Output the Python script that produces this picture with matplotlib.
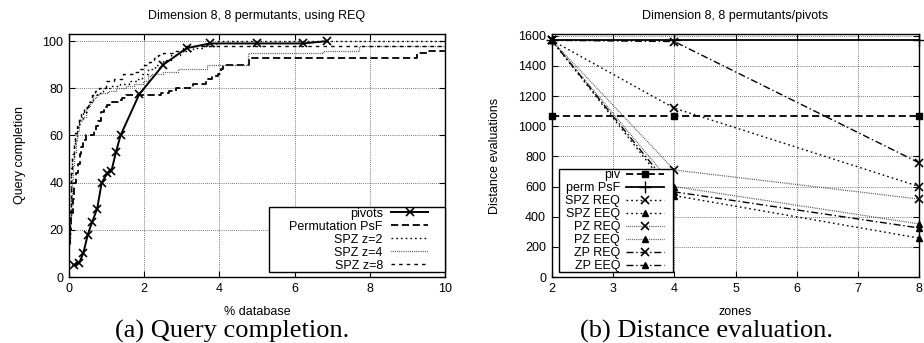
import numpy as np
import matplotlib
matplotlib.use("Agg")
import matplotlib.pyplot as plt
from matplotlib.patches import Rectangle

plt.rcParams['font.family'] = ['Liberation Sans', 'DejaVu Sans']

# --- (a) query completion vs % database ---
pivots_x = [0.12, 0.27, 0.38, 0.50, 0.62, 0.75, 0.87, 1.02, 1.13, 1.25, 1.37,
            1.87, 2.51, 3.13, 3.75, 4.99, 6.23, 6.87]
pivots_y = [5, 6, 10, 18, 23.5, 29, 40, 44, 45, 53, 60, 77.5, 90, 97, 99, 99, 99, 100]

perm_x = [0.0, 0.03, 0.06, 0.10, 0.14, 0.18, 0.23, 0.28, 0.33, 0.38,
          0.45, 0.67, 0.72, 0.78, 0.85, 0.92, 1.00, 1.15, 1.29, 1.40,
          1.52, 2.45, 2.65, 2.85, 3.30, 3.65, 3.80, 3.95, 4.05, 4.10,
          4.78, 9.25, 9.55, 10.0]
perm_y = [14, 20, 27, 33, 40, 44, 48, 52, 55, 58,
          60, 62, 64, 66, 70, 72, 73, 74, 75, 76,
          77, 78, 79, 80, 82, 84, 85, 86, 88, 90,
          93, 95, 96, 96]

z2_x = [0.0, 0.02, 0.04, 0.06, 0.09, 0.12, 0.16, 0.2, 0.25, 0.3,
        0.38, 0.47, 0.55, 0.65, 0.75, 0.9, 1.1, 1.35, 1.6, 1.8,
        1.95, 2.1, 2.3, 2.5, 2.7, 2.95, 3.3, 3.6, 3.9, 10]
z2_y = [15, 26, 36, 44, 50, 55, 59, 62, 65, 67,
        70, 73, 75, 77, 78, 80, 81, 82, 83, 84,
        86, 88, 90, 92, 94, 96, 97, 98, 100, 100]

z4_x = [0.0, 0.02, 0.04, 0.07, 0.1, 0.14, 0.18, 0.22, 0.27, 0.35,
        0.45, 0.55, 0.63, 0.72, 0.8, 1.03, 1.25, 1.52, 1.73, 1.96,
        2.1, 2.18, 2.49, 2.9, 3.66, 4.76, 6.75, 7.7, 10]
z4_y = [16, 25, 33, 41, 47, 53, 58, 62, 66, 68,
        72, 74, 76, 77, 78, 79, 80, 81, 82, 83,
        85, 86, 87, 88, 90, 95, 96, 98, 98]

z8_x = [0.0, 0.02, 0.04, 0.06, 0.09, 0.12, 0.16, 0.2, 0.26, 0.32,
        0.4, 0.5, 0.6, 0.7, 0.8, 0.98, 1.2, 1.43, 1.73, 1.86,
        2.0, 2.13, 2.25, 2.36, 2.5, 2.76, 3.02, 3.1, 10]
z8_y = [18, 28, 38, 46, 52, 57, 61, 64, 67, 69,
        72, 74, 77, 79, 80, 83, 84, 86, 87, 88,
        90, 91, 93, 94, 95, 96, 97, 98, 98]

# --- (b) distance evaluations vs zones ---
zones = [2, 4, 8]
piv = [1065, 1065, 1065]
perm_psf = [1570, 1570, 1570]
spz_req = [1570, 1120, 600]
spz_eeq = [1570, 540, 258]
pz_req = [1570, 710, 517]
pz_eeq = [1570, 600, 352]
zp_req = [1570, 1562, 757]
zp_eeq = [1570, 565, 325]

DOT = (0, (1.2, 2.2))
FINE = (0, (0.6, 0.9))
SDASH = (0, (2.5, 3))
DASH = (0, (4, 2))
DASHDOT = (0, (5, 2, 1, 2))

fig = plt.figure(figsize=(9.24, 3.43), dpi=100)
W, H = 924.0, 343.0
ax1 = fig.add_axes([69 / W, 1 - 277 / H, 376 / W, 243 / H])
ax2 = fig.add_axes([551.7 / W, 1 - 277 / H, 367.6 / W, 243 / H])

fs = 9
for ax in (ax1, ax2):
    ax.tick_params(direction='in', top=True, right=True, labelsize=fs,
                   length=4, width=0.8, pad=4)
    ax.grid(True, color='0.3', linestyle=(0, (1, 1.5)), linewidth=0.6)
    for sp in ax.spines.values():
        sp.set_linewidth(1.0)

# panel a
ax1.plot(pivots_x, pivots_y, color='black', lw=1.4, marker='x', ms=6, mew=1.2,
         label='pivots')
ax1.step(perm_x, perm_y, where='post', color='black', lw=1.3, linestyle=DASH,
         label='Permutation PsF')
ax1.step(z2_x, z2_y, where='post', color='black', lw=1.0, linestyle=DOT,
         label='SPZ z=2')
ax1.step(z4_x, z4_y, where='post', color='0.2', lw=0.9, linestyle=FINE,
         label='SPZ z=4')
ax1.step(z8_x, z8_y, where='post', color='black', lw=1.0, linestyle=SDASH,
         label='SPZ z=8')
ax1.set_xlim(0, 10)
ax1.set_ylim(0, 103)
ax1.set_xticks(np.arange(0, 11, 2))
ax1.set_yticks(np.arange(0, 101, 20))
ax1.set_title('Dimension 8, 8 permutants, using REQ', fontsize=fs, pad=11)
ax1.set_xlabel('% database', fontsize=fs, labelpad=8)
ax1.set_ylabel('Query completion', fontsize=fs, labelpad=12)

# gnuplot-style key: white box, labels right-aligned before the samples
ax1.add_patch(Rectangle((0.532, 0.0206), 0.468, 0.2675, transform=ax1.transAxes,
                        facecolor='white', edgecolor='black', lw=1.0,
                        zorder=4, clip_on=False))
leg1 = ax1.legend(loc='center', bbox_to_anchor=(0.771, 0.154), borderaxespad=0,
                  markerfirst=False, fontsize=fs, handlelength=3.0,
                  labelspacing=0.08, frameon=False, borderpad=0,
                  handletextpad=0.65)
leg1.set_zorder(5)

# panel b
ax2.plot(zones, piv, color='black', lw=1.3, linestyle=DASH, marker='s', ms=5,
         label='piv')
ax2.plot(zones, perm_psf, color='black', lw=1.3, marker='+', ms=8, mew=1.0,
         label='perm PsF')
ax2.plot(zones, spz_req, color='black', lw=1.0, linestyle=DOT, marker='x', ms=6,
         mew=1.2, label='SPZ REQ')
ax2.plot(zones, spz_eeq, color='black', lw=1.0, linestyle=DOT, marker='^', ms=5,
         label='SPZ EEQ')
ax2.plot(zones, pz_req, color='0.2', lw=0.9, linestyle=FINE, marker='x', ms=6,
         mew=1.2, mec='black', label='PZ REQ')
ax2.plot(zones, pz_eeq, color='0.2', lw=0.9, linestyle=FINE, marker='^', ms=5,
         mec='black', mfc='black', label='PZ EEQ')
ax2.plot(zones, zp_req, color='black', lw=1.0, linestyle=DASHDOT, marker='x', ms=6,
         mew=1.2, label='ZP REQ')
ax2.plot(zones, zp_eeq, color='black', lw=1.0, linestyle=DASHDOT, marker='^', ms=5,
         label='ZP EEQ')
ax2.set_xlim(2, 8)
ax2.set_ylim(0, 1612)
ax2.set_xticks(np.arange(2, 9, 1))
ax2.set_yticks(np.arange(0, 1601, 200))
for line in ax2.get_lines():
    line.set_clip_on(False)
ax2.set_title('Dimension 8, 8 permutants/pivots', fontsize=fs, pad=11)
ax2.set_xlabel('zones', fontsize=fs, labelpad=8)
ax2.set_ylabel('Distance evaluations', fontsize=fs, labelpad=12)

ax2.add_patch(Rectangle((0.02, 0.0206), 0.31, 0.424, transform=ax2.transAxes,
                        facecolor='white', edgecolor='black', lw=1.0,
                        zorder=4, clip_on=False))
leg2 = ax2.legend(loc='center', bbox_to_anchor=(0.171, 0.233), borderaxespad=0,
                  markerfirst=False, fontsize=fs, handlelength=3.0,
                  labelspacing=0.08, frameon=False, borderpad=0,
                  handletextpad=0.5)
leg2.set_zorder(5)

# captions
fig.text(232 / W, 0.035, '(a) Query completion.', ha='center', va='center',
         fontsize=19, family=['Liberation Serif', 'DejaVu Serif'])
fig.text(706 / W, 0.035, '(b) Distance evaluation.', ha='center', va='center',
         fontsize=19, family=['Liberation Serif', 'DejaVu Serif'])

fig.savefig('out.png', dpi=100)
